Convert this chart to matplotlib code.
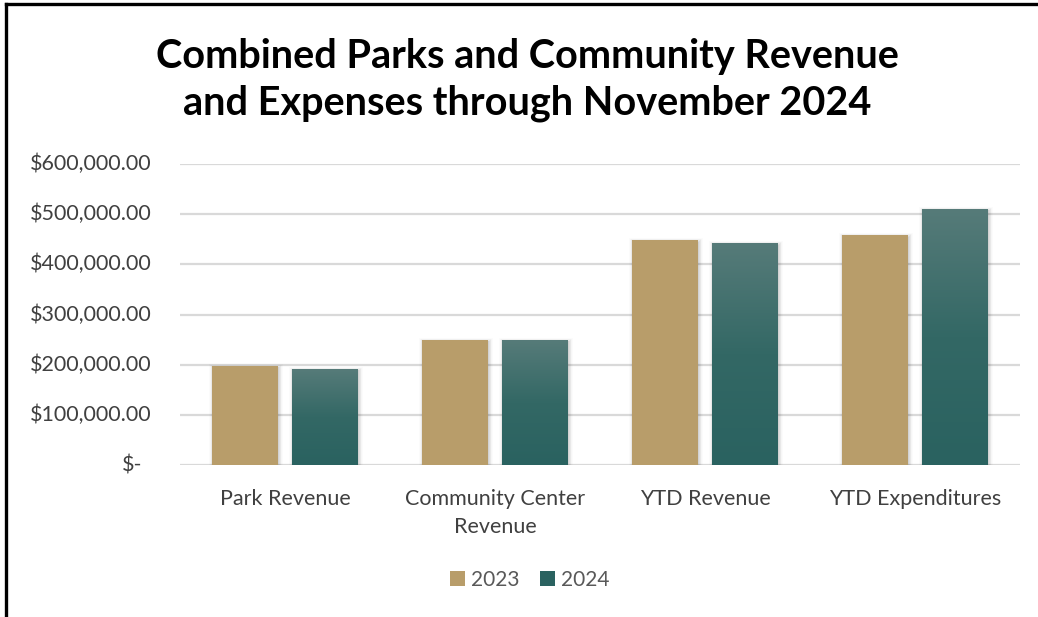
import numpy as np
import matplotlib
matplotlib.use("Agg")
import matplotlib.pyplot as plt
from matplotlib.patches import Rectangle, Patch
from matplotlib.colors import LinearSegmentedColormap

categories = ["Park Revenue", "Community Center\nRevenue", "YTD Revenue", "YTD Expenditures"]
values_2023 = [197000, 249000, 448000, 458000]
values_2024 = [191000, 249000, 442000, 510000]
series_labels = ["2023", "2024"]
y_ticks = [0, 100000, 200000, 300000, 400000, 500000, 600000]

TAN = "#B89D6A"
TEAL_TOP = "#567B79"
TEAL_BOTTOM = "#2A6260"
TEXT = "#404040"
GRID = "#D9D9D9"

plt.rcParams["font.family"] = ["Lato", "DejaVu Sans"]

W, H = 1038, 617
fig = plt.figure(figsize=(W / 100, H / 100), dpi=100)
# frame: left and top edges
fig.add_artist(plt.Line2D([5.5 / W, 5.5 / W], [0, 1 - 4 / H], transform=fig.transFigure,
                          color="black", linewidth=2.4))
fig.add_artist(plt.Line2D([5.5 / W, 1], [1 - 4 / H, 1 - 4 / H], transform=fig.transFigure,
                          color="black", linewidth=2.4))

ax_l, ax_r, ax_t, ax_b = 180, 1020, 164, 465
ax = fig.add_axes([ax_l / W, 1 - ax_b / H, (ax_r - ax_l) / W, (ax_b - ax_t) / H])
for s in ax.spines.values():
    s.set_visible(False)
ax.tick_params(length=0)
ax.set_yticks(y_ticks)
ax.set_yticklabels([])
ax.yaxis.grid(True, color=GRID, linewidth=1.6)
ax.set_axisbelow(True)
ax.set_xticks(range(len(categories)))
ax.set_xticklabels(categories, fontsize=15.5, color=TEXT, linespacing=1.55)
ax.tick_params(axis="x", pad=17)

# y labels in accounting style
for v in y_ticks:
    lab = "$-" if v == 0 else f"${v:,.2f}"
    dx = -38 if v == 0 else -28
    ax.annotate(lab, xy=(0, v), xycoords=("axes fraction", "data"),
                xytext=(dx, 0), textcoords="offset pixels",
                ha="right", va="center", fontsize=15.5, color=TEXT)

bar_w = 0.31
gap = 0.071
px_x = len(categories) / (ax_r - ax_l)
px_y = 600000 / (ax_b - ax_t)

def shadow(x0, h):
    for k, a in zip(range(6, 0, -1), [0.015, 0.02, 0.025, 0.03, 0.04, 0.05]):
        ax.add_patch(Rectangle((x0 - k * px_x * 0.7 + 1.0 * px_x, -2 * px_y),
                               bar_w + k * 1.4 * px_x, h + k * px_y * 0.7,
                               facecolor="black", edgecolor="none", alpha=a, zorder=2))

grad = np.linspace(0, 1, 256).reshape(-1, 1)
cmap = LinearSegmentedColormap.from_list("teal", [TEAL_BOTTOM, "#336865", TEAL_TOP])

x = np.arange(len(categories))
for i in range(len(categories)):
    x0 = x[i] - gap / 2 - bar_w
    x1 = x[i] + gap / 2
    shadow(x0, values_2023[i])
    shadow(x1, values_2024[i])
    ax.bar(x0, values_2023[i], width=bar_w, align="edge", color=TAN, zorder=3)
    ax.bar(x1, values_2024[i], width=bar_w, align="edge", color=TEAL_BOTTOM, zorder=3)
    ax.imshow(grad, extent=(x1, x1 + bar_w, 0, values_2024[i]), origin="lower",
              aspect="auto", cmap=cmap, zorder=4)
ax.set_xlim(-0.5, len(categories) - 0.5)
ax.set_ylim(0, 600000)

fig.text(527 / W, 1 - 80 / H, "Combined Parks and Community Revenue\nand Expenses through November 2024",
         ha="center", va="center", fontsize=28.5, fontweight="bold", color="black", linespacing=1.3)

handles = [Patch(facecolor=TAN), Patch(facecolor=TEAL_BOTTOM)]
leg = fig.legend(handles, series_labels, loc="center", bbox_to_anchor=(530 / W, 1 - 580 / H),
                 ncol=2, frameon=False, fontsize=15, handlelength=0.7, handleheight=0.7,
                 handletextpad=0.3, columnspacing=1.0)
for t in leg.get_texts():
    t.set_color("#595959")

fig.savefig("out.png", dpi=100)
